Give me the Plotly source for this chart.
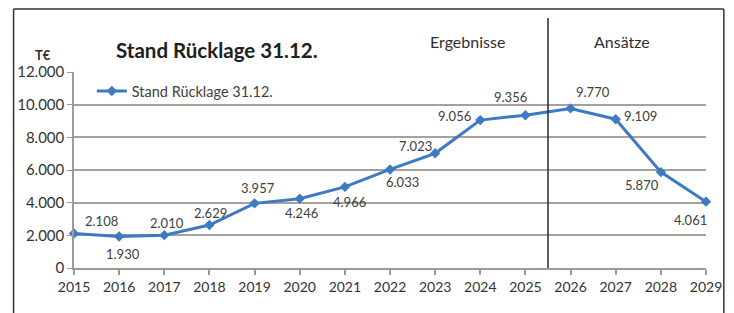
import plotly.graph_objects as go

years = list(range(2015, 2030))
values = [2108, 1930, 2010, 2629, 3957, 4246, 4966, 6033, 7023, 9056, 9356, 9770, 9109, 5870, 4061]
labels = ["2.108", "1.930", "2.010", "2.629", "3.957", "4.246", "4.966", "6.033",
          "7.023", "9.056", "9.356", "9.770", "9.109", "5.870", "4.061"]
label_offsets = [(27, 13), (4, -18), (3, 12), (1, 12), (3, 15), (2, -14), (5, -15), (12, -13),
                 (-20, 7), (-26, 4), (-15, 18), (22, 16), (25, 3), (-19, -13), (-16, -18)]
ytick_vals = [0, 2000, 4000, 6000, 8000, 10000, 12000]
ytick_text = ["0", "2.000", "4.000", "6.000", "8.000", "10.000", "12.000"]

FONT = "Lato, Open Sans, sans-serif"
LINE_COLOR = "#3c7bc4"
TEXT = "#404040"

fig = go.Figure()
fig.add_trace(go.Scatter(
    x=years, y=values, mode="lines+markers", name="Stand Rücklage 31.12.",
    line=dict(color=LINE_COLOR, width=3),
    marker=dict(symbol="diamond", size=8, color=LINE_COLOR),
    cliponaxis=False,
))

annotations = []
for x, y, t, (dx, dy) in zip(years, values, labels, label_offsets):
    annotations.append(dict(x=x, y=y, text=t, showarrow=False, xshift=dx, yshift=dy,
                            xanchor="center", yanchor="middle",
                            font=dict(family=FONT, size=13, color=TEXT)))


def paper_text(px, py, text, size, color="#303030"):
    return dict(xref="paper", yref="paper", x=(px - 74) / 638, y=(268 - py) / 196, text=text,
                showarrow=False, xanchor="center", yanchor="middle",
                font=dict(family=FONT, size=size, color=color))


annotations += [
    paper_text(218, 50, "<b>Stand Rücklage 31.12.</b>", 20.5, "#202020"),
    paper_text(43, 55, "<b>T€</b>", 13),
    paper_text(471, 42, "Ergebnisse", 16),
    paper_text(627, 42, "Ansätze", 16),
]

shapes = [
    dict(type="line", xref="x", yref="paper", x0=2025.5, x1=2025.5, y0=0, y1=(268 - 18) / 196,
         line=dict(color="#1f2a44", width=1.5)),
    # outer frame
    dict(type="line", xref="paper", yref="paper", x0=(13 - 74) / 638, x1=(13 - 74) / 638,
         y0=(268 - 313) / 196, y1=(268 - 9) / 196, line=dict(color="#333", width=1.5)),
    dict(type="line", xref="paper", yref="paper", x0=(13 - 74) / 638, x1=(730 - 74) / 638,
         y0=(268 - 9) / 196, y1=(268 - 9) / 196, line=dict(color="#333", width=1.5)),
    dict(type="line", xref="paper", yref="paper", x0=(730 - 74) / 638, x1=(730 - 74) / 638,
         y0=(268 - 313) / 196, y1=(268 - 9) / 196, line=dict(color="#333", width=1.5)),
]

fig.update_layout(
    width=734, height=313,
    margin=dict(l=74, r=22, t=72, b=45),
    paper_bgcolor="white", plot_bgcolor="white",
    font=dict(family=FONT, color=TEXT),
    showlegend=True,
    legend=dict(x=(92 - 74) / 638, y=(268 - 75) / 196, xanchor="left", yanchor="top",
                bgcolor="rgba(0,0,0,0)", font=dict(family=FONT, size=14.5, color=TEXT),
                itemwidth=30),
    annotations=annotations,
    shapes=shapes,
    xaxis=dict(range=[2015, 2029], tickvals=years, ticktext=[str(y) for y in years],
               showgrid=False, zeroline=False, showline=True, linecolor="#a09a96", linewidth=1.5,
               ticks="outside", ticklen=5, tickcolor="#a09a96", tickwidth=1.5,
               tickfont=dict(family=FONT, size=14, color="#333")),
    yaxis=dict(range=[0, 12000], tickvals=ytick_vals, ticktext=ytick_text,
               showgrid=True, gridcolor="#a8a09c", gridwidth=1.5, zeroline=False,
               showline=True, linecolor="#a09a96", linewidth=1.5,
               ticks="outside", ticklen=5, tickcolor="#a09a96",
               tickfont=dict(family=FONT, size=15, color="#333")),
)

fig.write_html("out.html", config={"displayModeBar": False},
               post_script="document.body.style.margin='0';document.body.style.overflow='hidden';")
